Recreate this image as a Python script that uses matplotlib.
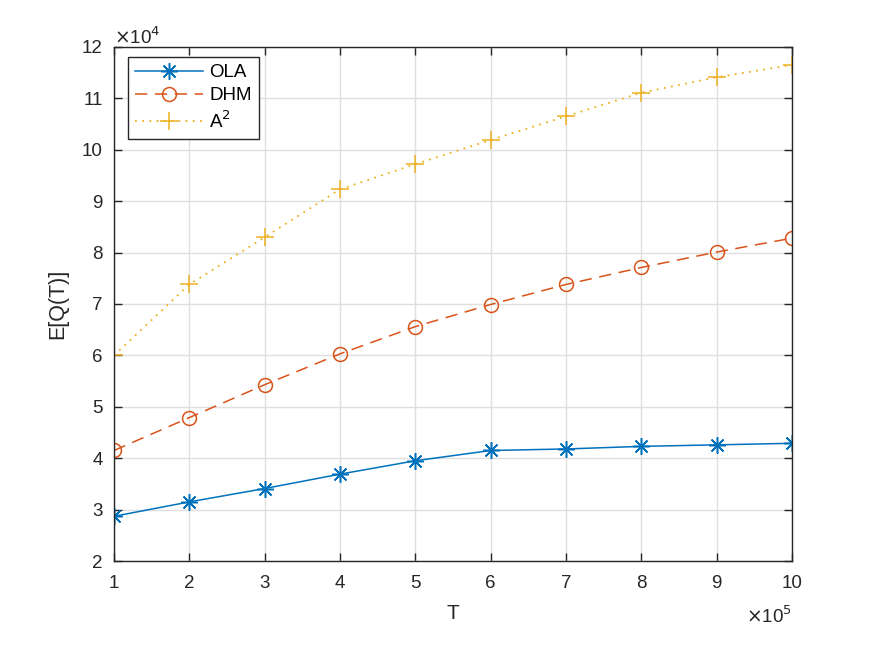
import matplotlib
matplotlib.use("Agg")
import matplotlib.pyplot as plt
from matplotlib.ticker import FuncFormatter, MultipleLocator

plt.rcParams['font.family'] = ['Liberation Sans', 'DejaVu Sans']

T = [1e5, 2e5, 3e5, 4e5, 5e5, 6e5, 7e5, 8e5, 9e5, 10e5]
ola = [2.87e4, 3.15e4, 3.41e4, 3.69e4, 3.95e4, 4.15e4, 4.18e4, 4.23e4, 4.26e4, 4.29e4]
dhm = [4.15e4, 4.79e4, 5.43e4, 6.03e4, 6.56e4, 6.99e4, 7.38e4, 7.71e4, 8.01e4, 8.28e4]
a2 = [6.00e4, 7.38e4, 8.30e4, 9.23e4, 9.72e4, 10.19e4, 10.65e4, 11.11e4, 11.41e4, 11.65e4]
labels = ['OLA', 'DHM', 'A$^2$']

c_blue = '#0072BD'
c_red = '#D95319'
c_yel = '#EDB120'
axc = '#262626'

fig = plt.figure(figsize=(8.75, 6.57), dpi=100)
ax = fig.add_axes([0.1303, 0.1461, 0.905 - 0.1303, 0.9285 - 0.1461])

ax.plot(T, ola, color=c_blue, lw=1.1, linestyle='-', marker=(8, 2, 0),
        markersize=12, markeredgewidth=1.1, label=labels[0])
ax.plot(T, dhm, color=c_red, lw=1.1, linestyle=(0, (8, 5)), marker='o',
        markersize=10, markerfacecolor='none', markeredgewidth=1.1, label=labels[1])
ax.plot(T, a2, color=c_yel, lw=1.3, linestyle=(0, (1, 3)), marker='+',
        markersize=13, markeredgewidth=1.1, label=labels[2])

ax.set_xlim(1e5, 1e6)
ax.set_ylim(2e4, 12e4)
ax.xaxis.set_major_locator(MultipleLocator(1e5))
ax.yaxis.set_major_locator(MultipleLocator(1e4))
ax.xaxis.set_major_formatter(FuncFormatter(lambda v, p: f"{v/1e5:.0f}"))
ax.yaxis.set_major_formatter(FuncFormatter(lambda v, p: f"{v/1e4:.0f}"))

ax.grid(True, color='#dfdfdf', lw=1.0)
ax.set_axisbelow(True)
for s in ax.spines.values():
    s.set_color(axc)
    s.set_linewidth(1.0)
ax.tick_params(direction='in', top=True, right=True, length=6, width=1.0,
               colors=axc, labelsize=13.5, labelcolor=axc)
ax.tick_params(axis='x', pad=10)
ax.tick_params(axis='y', pad=8)

ax.set_xlabel('T', fontsize=15, color=axc, labelpad=9)
ax.set_ylabel('E[Q(T)]', fontsize=15.5, color=axc, labelpad=10)

ax.text(0.0, 1.006, r'$\times$10$^4$', transform=ax.transAxes, fontsize=13.5,
        color=axc, ha='left', va='baseline')
ax.text(1.0, -0.086, r'$\times$10$^5$', transform=ax.transAxes, fontsize=13.5,
        color=axc, ha='right', va='top')

leg = ax.legend(loc='upper left', bbox_to_anchor=(0.0205, 0.981), fontsize=13.5,
                frameon=True, fancybox=False, edgecolor=axc, framealpha=1,
                handlelength=3.6, borderpad=0.4, labelspacing=0.32,
                handletextpad=0.35, borderaxespad=0.0)
leg.get_frame().set_linewidth(1.0)

fig.savefig('out.png', dpi=100)
